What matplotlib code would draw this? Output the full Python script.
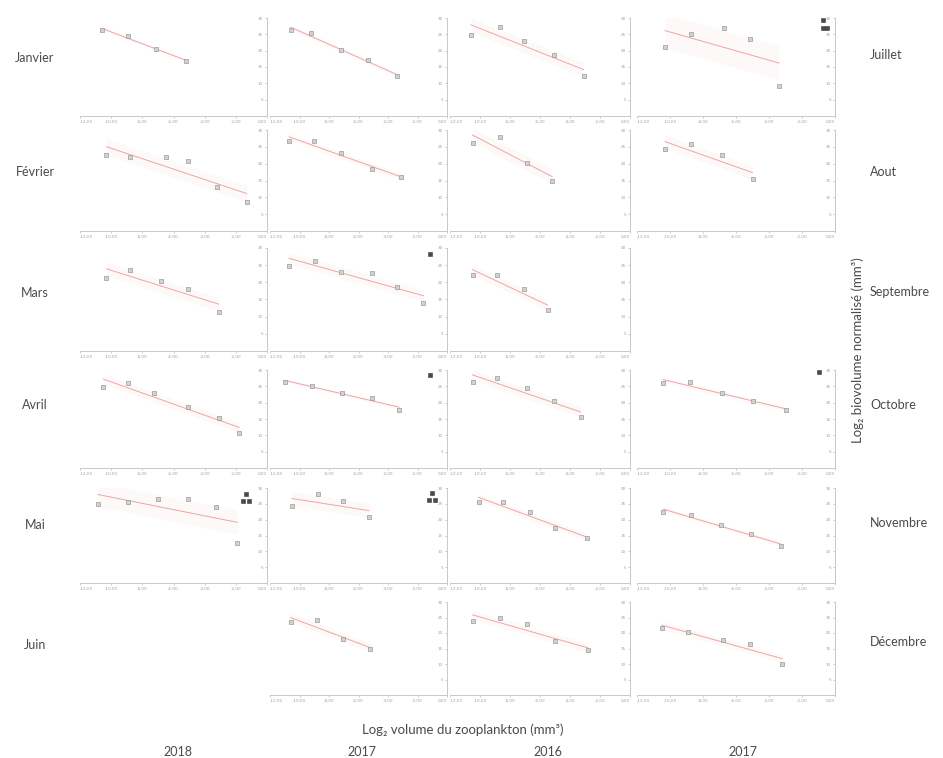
import numpy as np
import matplotlib
matplotlib.use("Agg")
import matplotlib.pyplot as plt

# ---------------- data ----------------
row_labels_left = ["Janvier", "Février", "Mars", "Avril", "Mai", "Juin"]
row_labels_right = ["Juillet", "Aout", "Septembre", "Octobre", "Novembre", "Décembre"]
col_labels = ["2018", "2017", "2016", "2017"]
x_label = "Log₂ volume du zooplankton (mm³)"
y_label = "Log₂ biovolume normalisé (mm³)"

x_ticks = [-12, -10, -8, -6, -4, -2, 0]
y_ticks = [0, 5, 10, 15, 20, 25, 30]

# row 1
x_jan18 = [-10.6, -8.9, -7.1, -5.2]
y_jan18 = [26.3, 24.5, 20.5, 16.8]
x_jan17 = [-10.6, -9.2, -7.2, -5.35, -3.4]
y_jan17 = [26.3, 25.4, 20.2, 17.1, 12.2]
x_jul16 = [-10.6, -8.7, -7.1, -5.1, -3.1]
y_jul16 = [24.8, 27.2, 23.0, 18.7, 12.2]
x_jul17 = [-10.3, -8.7, -6.7, -5.15, -3.4]
y_jul17 = [21.1, 25.1, 26.9, 23.6, 9.2]
# row 2
x_feb18 = [-10.3, -8.8, -6.5, -5.1, -3.2, -1.3]
y_feb18 = [22.6, 22.0, 22.0, 20.8, 13.1, 8.6]
x_feb17 = [-10.7, -9.0, -7.2, -5.1, -3.1]
y_feb17 = [26.7, 26.7, 23.2, 18.4, 16.0]
x_aou16 = [-10.5, -8.7, -6.9, -5.2]
y_aou16 = [26.1, 27.9, 20.2, 14.9]
x_aou17 = [-10.3, -8.7, -6.85, -5.0]
y_aou17 = [24.4, 25.8, 22.6, 15.4]
# row 3
x_mar18 = [-10.3, -8.8, -6.8, -5.1, -3.1]
y_mar18 = [21.3, 23.6, 20.4, 18.1, 11.4]
x_mar17 = [-10.7, -8.95, -7.2, -5.1, -3.4, -1.6]
y_mar17 = [24.8, 26.2, 23.0, 22.7, 18.6, 14.0]
x_sep16 = [-10.5, -8.9, -7.1, -5.5]
y_sep16 = [22.1, 22.1, 18.1, 11.9]
# row 4
x_avr18 = [-10.5, -8.9, -7.25, -5.1, -3.1, -1.8]
y_avr18 = [24.8, 26.0, 23.0, 18.7, 15.3, 10.7]
x_avr17 = [-11.0, -9.15, -7.1, -5.1, -3.25]
y_avr17 = [26.3, 25.1, 23.0, 21.4, 17.8]
x_oct16 = [-10.5, -8.9, -6.9, -5.1, -3.3]
y_oct16 = [26.3, 27.6, 24.5, 20.5, 15.6]
x_oct17 = [-10.4, -8.8, -6.85, -5.0, -3.0]
y_oct17 = [26.0, 26.3, 23.0, 20.5, 17.8]
# row 5
x_mai18 = [-10.85, -8.9, -7.0, -5.1, -3.3, -1.9]
y_mai18 = [24.9, 25.6, 26.5, 26.5, 24.0, 12.6]
x_mai17 = [-10.5, -8.75, -7.05, -5.3]
y_mai17 = [24.3, 28.1, 25.9, 20.8]
x_nov16 = [-10.1, -8.5, -6.7, -5.0, -2.9]
y_nov16 = [25.6, 25.6, 22.4, 17.4, 14.2]
x_nov17 = [-10.4, -8.7, -6.9, -5.1, -3.3]
y_nov17 = [22.4, 21.5, 18.3, 15.5, 11.7]
# row 6
x_jun17 = [-10.6, -8.8, -7.05, -5.2]
y_jun17 = [23.5, 24.2, 18.1, 14.8]
x_dec16 = [-10.5, -8.7, -6.9, -5.0, -2.8]
y_dec16 = [23.9, 24.8, 22.9, 17.4, 14.5]
x_dec17 = [-10.5, -8.9, -6.8, -5.15, -3.2]
y_dec17 = [21.6, 20.3, 17.7, 16.5, 10.0]

# isolated dark markers near the y axis
x_extra_mar17, y_extra_mar17 = [-1.15], [28.3]
x_extra_avr17, y_extra_avr17 = [-1.15], [28.5]
x_extra_oct17, y_extra_oct17 = [-0.97], [29.4]
x_extra_mai18, y_extra_mai18 = [-1.35, -1.55, -1.15], [28.1, 25.8, 25.8]
x_extra_mai17, y_extra_mai17 = [-1.0, -1.2, -0.8], [28.4, 26.2, 26.2]
x_extra_jul17, y_extra_jul17 = [-0.75, -0.75, -0.5], [29.3, 27.0, 27.0]

panels = {
    (0, 0): (x_jan18, y_jan18, None), (0, 1): (x_jan17, y_jan17, None),
    (0, 2): (x_jul16, y_jul16, None), (0, 3): (x_jul17, y_jul17, (x_extra_jul17, y_extra_jul17)),
    (1, 0): (x_feb18, y_feb18, None), (1, 1): (x_feb17, y_feb17, None),
    (1, 2): (x_aou16, y_aou16, None), (1, 3): (x_aou17, y_aou17, None),
    (2, 0): (x_mar18, y_mar18, None), (2, 1): (x_mar17, y_mar17, (x_extra_mar17, y_extra_mar17)),
    (2, 2): (x_sep16, y_sep16, None),
    (3, 0): (x_avr18, y_avr18, None), (3, 1): (x_avr17, y_avr17, (x_extra_avr17, y_extra_avr17)),
    (3, 2): (x_oct16, y_oct16, None), (3, 3): (x_oct17, y_oct17, (x_extra_oct17, y_extra_oct17)),
    (4, 0): (x_mai18, y_mai18, (x_extra_mai18, y_extra_mai18)),
    (4, 1): (x_mai17, y_mai17, (x_extra_mai17, y_extra_mai17)),
    (4, 2): (x_nov16, y_nov16, None), (4, 3): (x_nov17, y_nov17, None),
    (5, 1): (x_jun17, y_jun17, None),
    (5, 2): (x_dec16, y_dec16, None), (5, 3): (x_dec17, y_dec17, None),
}

# ---------------- layout ----------------
W, H = 943, 758
fig = plt.figure(figsize=(W / 100, H / 100), dpi=100)
fig.patch.set_facecolor("white")
FONT = ["Lato", "DejaVu Sans"]

col_px = [(80, 267), (270, 447), (450, 630), (637, 835)]
row_px = [(18, 116), (130, 231), (248, 351), (370, 468), (488, 583), (602, 695)]

for (r, c), (xs, ys, extra) in panels.items():
    x0, x1 = col_px[c]
    yt, yb = row_px[r]
    ax = fig.add_axes([x0 / W, 1 - yb / H, (x1 - x0) / W, (yb - yt) / H])
    ax.set_facecolor("none")
    xs = np.asarray(xs)
    ys = np.asarray(ys)
    k, b = np.polyfit(xs, ys, 1)
    xf = np.linspace(xs.min(), xs.max(), 50)
    yf = k * xf + b
    resid = np.std(ys - (k * xs + b))
    ax.fill_between(xf, yf - resid, yf + resid, color="#f6c0c0", alpha=0.09, lw=0)
    ax.plot(xf, yf, color="#e98080", lw=0.7, alpha=0.7)
    ax.plot(xs, ys, ls="none", marker="s", ms=2.8, mfc="#d2d2d2", mec="#9a9a9a", mew=0.5)
    if extra is not None:
        ax.plot(extra[0], extra[1], ls="none", marker="s", ms=2.4, mfc="#4a4a4a", mec="#3a3a3a", mew=0.4)
    ax.set_xlim(-12, 0)
    ax.set_ylim(0, 30)
    ax.set_xticks(x_ticks)
    ax.set_yticks(y_ticks)
    ax.set_xticklabels([f"{v:.2f}".replace(".", ",") for v in x_ticks])
    ax.set_yticklabels(["" if v == 0 else str(v) for v in y_ticks])
    for s in ["top", "right"]:
        ax.spines[s].set_visible(False)
    ax.spines["left"].set_position(("data", 0))
    for s in ["left", "bottom"]:
        ax.spines[s].set_color("#c8c8c8")
        ax.spines[s].set_linewidth(0.7)
    ax.tick_params(axis="both", labelsize=3, colors="#b8b8b8", length=1.5, width=0.5, pad=1.5)
    xl = ax.get_xticklabels()
    xl[0].set_horizontalalignment("left")
    xl[-1].set_horizontalalignment("right")
    for lab in xl + ax.get_yticklabels():
        lab.set_color("#a0a0a0")

def ftext(px, py, s, **kw):
    fig.text(px / W, 1 - py / H, s, family=FONT, color="#4a4a4a", **kw)

left_y = [58, 172, 293, 405, 525, 645]
right_y = [55, 172, 292, 405, 523, 642]
for lab, yy in zip(row_labels_left, left_y):
    ftext(35, yy, lab, fontsize=9, ha="center", va="center")
for lab, yy in zip(row_labels_right, right_y):
    ftext(870, yy, lab, fontsize=9, ha="left", va="center")

for lab, xx in zip(col_labels, [178, 362, 548, 743]):
    ftext(xx, 752, lab, fontsize=9, ha="center", va="center")

ftext(463, 730, x_label, fontsize=9.5, ha="center", va="center")
ftext(858, 350, y_label, fontsize=9.5, ha="center", va="center", rotation=90)

fig.savefig("out.png", dpi=100, facecolor="white")
